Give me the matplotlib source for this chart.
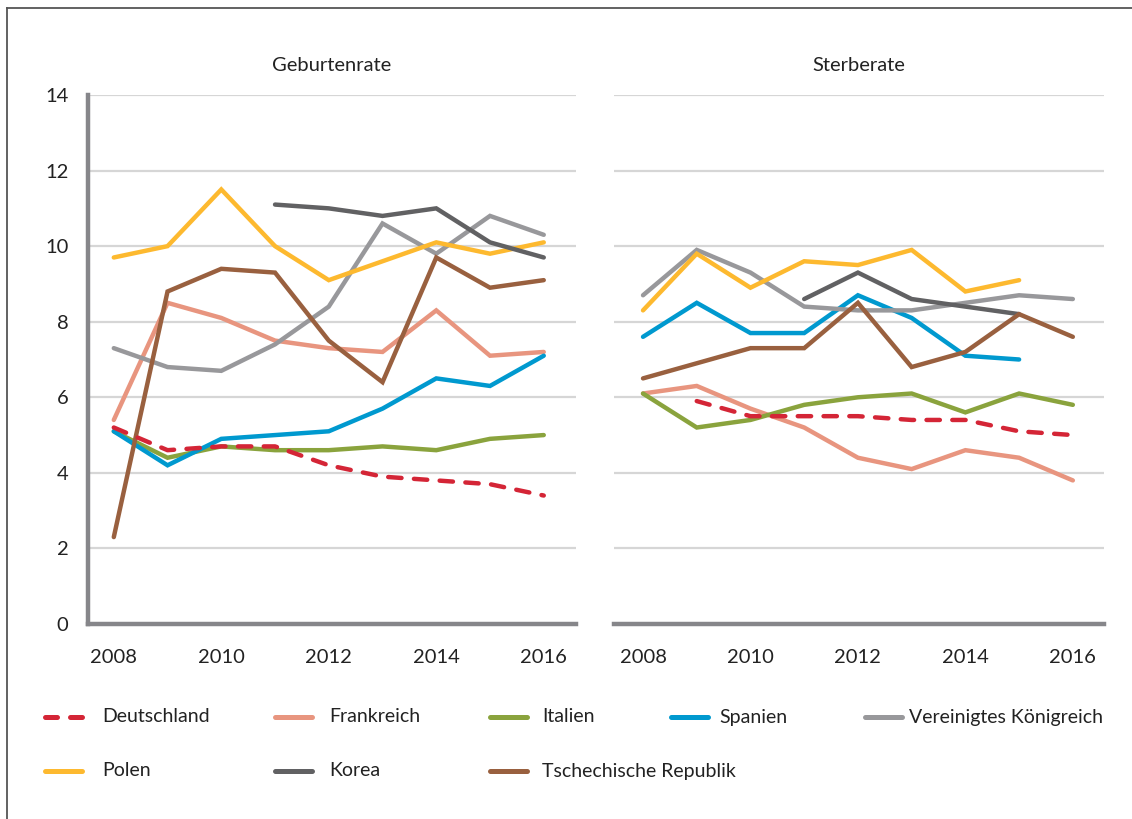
import matplotlib
matplotlib.use("Agg")
import matplotlib.pyplot as plt
from matplotlib.lines import Line2D
import numpy as np

plt.rcParams['font.family'] = ['Liberation Sans Narrow', 'Lato', 'DejaVu Sans']

years = list(range(2008, 2017))
countries = ["Deutschland", "Frankreich", "Italien", "Spanien", "Vereinigtes Königreich",
             "Polen", "Korea", "Tschechische Republik"]
colors = ["#D42536", "#E8957F", "#8AA33D", "#0099CF", "#98989B",
          "#FDB92F", "#616163", "#99603F"]
N = None

# Geburtenrate
birth_de = [5.2, 4.6, 4.7, 4.7, 4.2, 3.9, 3.8, 3.7, 3.4]
birth_fr = [5.4, 8.5, 8.1, 7.5, 7.3, 7.2, 8.3, 7.1, 7.2]
birth_it = [5.1, 4.4, 4.7, 4.6, 4.6, 4.7, 4.6, 4.9, 5.0]
birth_es = [5.1, 4.2, 4.9, 5.0, 5.1, 5.7, 6.5, 6.3, 7.1]
birth_uk = [7.3, 6.8, 6.7, 7.4, 8.4, 10.6, 9.8, 10.8, 10.3]
birth_pl = [9.7, 10.0, 11.5, 10.0, 9.1, 9.6, 10.1, 9.8, 10.1]
birth_kr = [N, N, N, 11.1, 11.0, 10.8, 11.0, 10.1, 9.7]
birth_cz = [2.3, 8.8, 9.4, 9.3, 7.5, 6.4, 9.7, 8.9, 9.1]

# Sterberate
death_de = [N, 5.9, 5.5, 5.5, 5.5, 5.4, 5.4, 5.1, 5.0]
death_fr = [6.1, 6.3, 5.7, 5.2, 4.4, 4.1, 4.6, 4.4, 3.8]
death_it = [6.1, 5.2, 5.4, 5.8, 6.0, 6.1, 5.6, 6.1, 5.8]
death_es = [7.6, 8.5, 7.7, 7.7, 8.7, 8.1, 7.1, 7.0, N]
death_uk = [8.7, 9.9, 9.3, 8.4, 8.3, 8.3, 8.5, 8.7, 8.6]
death_pl = [8.3, 9.8, 8.9, 9.6, 9.5, 9.9, 8.8, 9.1, N]
death_kr = [N, N, N, 8.6, 9.3, 8.6, 8.4, 8.2, N]
death_cz = [6.5, 6.9, 7.3, 7.3, 8.5, 6.8, 7.2, 8.2, 7.6]

birth = [birth_de, birth_fr, birth_it, birth_es, birth_uk, birth_pl, birth_kr, birth_cz]
death = [death_de, death_fr, death_it, death_es, death_uk, death_pl, death_kr, death_cz]
panel_titles = ["Geburtenrate", "Sterberate"]
yticks = [0, 2, 4, 6, 8, 10, 12, 14]
xticks = [2008, 2010, 2012, 2014, 2016]

W, H = 1132, 819
fig = plt.figure(figsize=(W / 100, H / 100), dpi=100)
fig.patch.set_facecolor("white")

def fx(px):
    return px / W

def fy(py):
    return 1 - py / H

# frame lines (top and left)
fig.add_artist(Line2D([fx(7), fx(7)], [fy(8), 0], color="#555555", lw=1.3))
fig.add_artist(Line2D([fx(7), 1], [fy(8), fy(8)], color="#555555", lw=1.3))

axL = fig.add_axes([fx(88), fy(624), fx(576) - fx(88), fy(95) - fy(624)])
axR = fig.add_axes([fx(614), fy(624), fx(1104) - fx(614), fy(95) - fy(624)])

text_color = "#222222"
LW = 3.2
for ax, data, title, xl in [(axL, birth, panel_titles[0], (2007.52, 2016.6)),
                            (axR, death, panel_titles[1], (2007.46, 2016.58))]:
    ax.set_xlim(*xl)
    ax.set_ylim(0, 14)
    for s in ["top", "right", "left", "bottom"]:
        ax.spines[s].set_visible(False)
    ax.set_yticks(yticks)
    ax.set_xticks(xticks)
    ax.grid(axis="y", color="#D6D6D6", lw=1.6)
    ax.set_axisbelow(True)
    ax.tick_params(length=0, labelsize=14.5, labelcolor=text_color)
    ax.tick_params(axis="x", pad=18)
    ax.axhline(0, color="#86868A", lw=3.2, zorder=5, clip_on=False)
    for vals, c, name in zip(data, colors, countries):
        y = np.array([np.nan if v is None else v for v in vals], dtype=float)
        if name == "Deutschland":
            ax.plot(years, y, color=c, lw=LW, ls=(0, (3.0, 2.8)),
                    dash_capstyle="round", dash_joinstyle="round", zorder=4)
        else:
            ax.plot(years, y, color=c, lw=LW, solid_capstyle="round",
                    solid_joinstyle="miter", zorder=3)
    ax.set_title(title, fontsize=14.5, color=text_color, pad=17)

axL.spines["left"].set_visible(True)
axL.spines["left"].set_color("#86868A")
axL.spines["left"].set_linewidth(3.2)
axL.tick_params(axis="y", pad=14)
axR.set_yticklabels([])

# legend
rows = [717, 771]
handle_x = [42, 272, 487, 668, 862]
text_x = [102, 329, 542, 719, 909]
for i, (name, c) in enumerate(zip(countries, colors)):
    r = i // 5
    k = i % 5
    y = fy(rows[r])
    ls = (0, (2.4, 2.6)) if name == "Deutschland" else "-"
    fig.add_artist(Line2D([fx(handle_x[k] + 2.5), fx(handle_x[k] + 39.5)], [y, y], color=c,
                          lw=3.6, ls=ls, solid_capstyle="round", dash_capstyle="round"))
    fig.text(fx(text_x[k]), y, name, fontsize=14, color=text_color, va="center", ha="left")

fig.savefig("out.png", dpi=100)
